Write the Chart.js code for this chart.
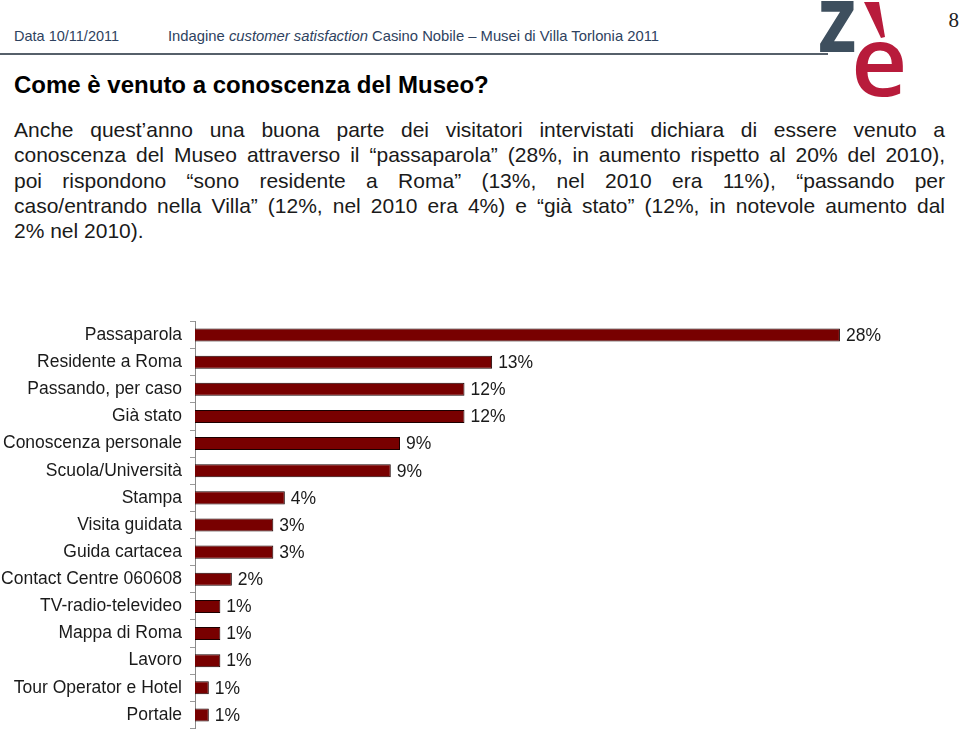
<!DOCTYPE html>
<html>
<head>
<meta charset="utf-8">
<script src="https://cdn.jsdelivr.net/npm/chart.js@4.4.0/dist/chart.umd.min.js"></script>
<style>
  html, body { margin: 0; padding: 0; background: #fff; }
  body { width: 960px; height: 730px; position: relative; overflow: hidden; font-family: "Liberation Sans", Arial, sans-serif; }
  .abs { position: absolute; white-space: nowrap; }
  #hdr1 { left: 14px; top: 28px; font-size: 14.5px; color: #2e4260; }
  #hdr2 { left: 168px; top: 28px; font-size: 14.8px; color: #2e4260; }
  #rule { position: absolute; left: 0; top: 53px; width: 828px; height: 2px; background: #56606a; }
  #pnum { right: 1px; top: 8px; font-family: "Liberation Serif", serif; font-size: 21px; color: #222; }
  #logoz { left: 818px; top: -30px; font-family: "Open Sans", sans-serif; font-weight: 700; font-size: 93px; color: #3e4f5e; line-height: 1; transform: scaleX(0.85); transform-origin: left top; }
  #logoe { left: 851px; top: 9px; font-family: "Open Sans", sans-serif; font-weight: 600; font-size: 98px; color: #b81b3b; line-height: 1; }
  #accent { position: absolute; left: 0; top: 0; width: 960px; height: 60px; background: #b81b3b;
            clip-path: polygon(864px 2px, 879px 2px, 885px 37px, 881px 38px); }
  #title { left: 14px; top: 71px; font-size: 24px; font-weight: bold; color: #000; }
  #para { position: absolute; left: 14px; top: 117px; width: 931px; font-size: 21px; line-height: 25.3px; color: #1a1a1a; }
  #para div { text-align: justify; text-align-last: justify; white-space: nowrap; }
  #para div.last { text-align-last: left; }
  #wrap { position: absolute; left: 0; top: 303px; width: 960px; height: 444px; }
</style>
</head>
<body>
<div class="abs" id="hdr1">Data 10/11/2011</div>
<div class="abs" id="hdr2">Indagine <i>customer satisfaction</i> Casino Nobile – Musei di Villa Torlonia 2011</div>
<div id="rule"></div>
<div class="abs" id="logoz">z</div>
<div class="abs" id="logoe">e</div>
<div id="accent"></div>
<div class="abs" id="pnum">8</div>
<div class="abs" id="title">Come è venuto a conoscenza del Museo?</div>
<div id="para">
  <div>Anche quest’anno una buona parte dei visitatori intervistati dichiara di essere venuto a</div>
  <div>conoscenza del Museo attraverso il “passaparola” (28%, in aumento rispetto al 20% del 2010),</div>
  <div>poi rispondono “sono residente a Roma” (13%, nel 2010 era 11%), “passando per</div>
  <div>caso/entrando nella Villa” (12%, nel 2010 era 4%) e “già stato” (12%, in notevole aumento dal</div>
  <div class="last">2% nel 2010).</div>
</div>
<div id="wrap"><canvas id="c"></canvas></div>
<script>
const categories = [
  "Passaparola", "Residente a Roma", "Passando, per caso", "Già stato",
  "Conoscenza personale", "Scuola/Università", "Stampa", "Visita guidata",
  "Guida cartacea", "Contact Centre 060608", "TV-radio-televideo",
  "Mappa di Roma", "Lavoro", "Tour Operator e Hotel", "Portale"
];
const values = [28, 12.9, 11.7, 11.7, 8.9, 8.5, 3.9, 3.4, 3.4, 1.6, 1.1, 1.1, 1.1, 0.6, 0.6];
const xMin = 0, xMax = 30;

const labelPlugin = {
  id: 'valueLabels',
  afterDatasetsDraw(chart) {
    const ctx = chart.ctx;
    const meta = chart.getDatasetMeta(0);
    ctx.save();
    ctx.font = '17.5px "Liberation Sans", Arial, sans-serif';
    ctx.fillStyle = '#1a1a1a';
    ctx.textAlign = 'left';
    ctx.textBaseline = 'middle';
    meta.data.forEach((bar, i) => {
      ctx.fillText(Math.round(values[i]) + '%', bar.x + 6, bar.y + 1);
    });
    ctx.restore();
  }
};

new Chart(document.getElementById('c'), {
  type: 'bar',
  data: {
    labels: categories,
    datasets: [{
      data: values,
      backgroundColor: '#780000',
      borderColor: '#1a0000',
      borderWidth: 1,
      categoryPercentage: 1,
      barPercentage: 0.48
    }]
  },
  options: {
    indexAxis: 'y',
    responsive: true,
    maintainAspectRatio: false,
    animation: false,
    layout: { padding: { top: 3, bottom: 3, right: 74, left: 0 } },
    plugins: { legend: { display: false }, tooltip: { enabled: false } },
    scales: {
      x: { display: false, min: xMin, max: xMax },
      y: {
        afterFit(scale) { scale.width = 195; },
        grid: { display: true, drawOnChartArea: false, drawTicks: true, tickLength: 5, offset: true, color: '#9a9a9a' },
        border: { display: true, color: '#8a8a8a', width: 1 },
        ticks: { color: '#1a1a1a', padding: 8, font: { size: 17.5, family: '"Liberation Sans", Arial, sans-serif' } }
      }
    }
  },
  plugins: [labelPlugin]
});
</script>
</body>
</html>
